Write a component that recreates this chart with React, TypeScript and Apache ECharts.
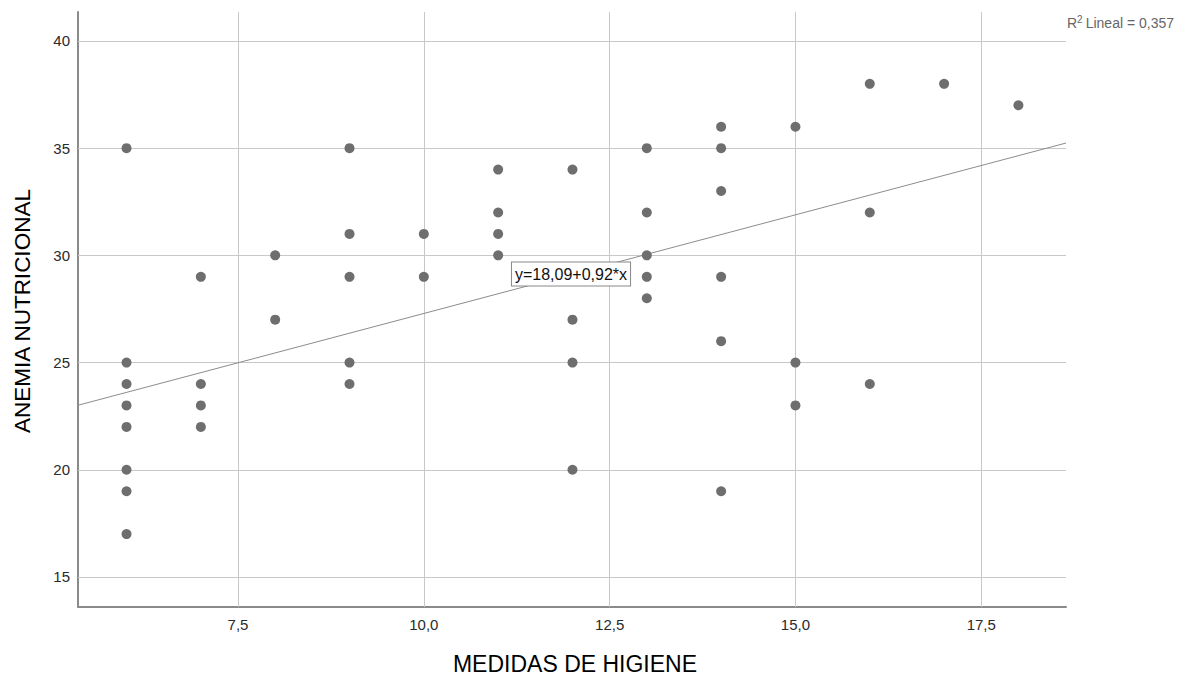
import React, { useEffect, useRef } from "react";
import * as echarts from "echarts";

const higiene = [
  6, 6, 6, 6, 6, 6, 6, 6,
  7, 7, 7, 7,
  8, 8,
  9, 9, 9, 9, 9,
  10, 10,
  11, 11, 11, 11,
  12, 12, 12, 12,
  13, 13, 13, 13, 13,
  14, 14, 14, 14, 14, 14,
  15, 15, 15,
  16, 16, 16,
  17,
  18,
];
const anemia = [
  35, 25, 24, 23, 22, 20, 19, 17,
  29, 24, 23, 22,
  30, 27,
  35, 31, 29, 25, 24,
  31, 29,
  34, 32, 31, 30,
  34, 27, 25, 20,
  35, 32, 30, 29, 28,
  36, 35, 33, 29, 26, 19,
  36, 25, 23,
  38, 32, 24,
  38,
  37,
];
const xTicks = [7.5, 10, 12.5, 15, 17.5];
const yTicks = [15, 20, 25, 30, 35, 40];
const intercept = 18.09;
const slope = 0.92;
const xMin = 5.347;
const xMax = 18.64;
const yMin = 13.6;
const yMax = 41.35;
const eqLabel = "y=18,09+0,92*x";
const r2Label = "0,357";
const xTitle = "MEDIDAS DE HIGIENE";
const yTitle = "ANEMIA NUTRICIONAL";

export default function App() {
  const ref = useRef<HTMLDivElement>(null);
  useEffect(() => {
    if (!ref.current) return;
    const chart = echarts.init(ref.current, null, { renderer: "svg" });
    const font = "'Liberation Sans', Arial, sans-serif";
    const points = higiene.map((x, i) => [x, anemia[i]]);
    const gridLines = [
      ...xTicks.map((v) => ({ xAxis: v })),
      ...yTicks.map((v) => ({ yAxis: v })),
    ];
    chart.setOption({
      animation: false,
      grid: { left: 78, right: 122, top: 12, bottom: 69, containLabel: false },
      xAxis: {
        type: "value",
        min: xMin,
        max: xMax,
        splitLine: { show: false },
        axisTick: { show: false },
        axisLine: { show: true, lineStyle: { color: "#8a8a8a", width: 2 } },
        axisLabel: {
          customValues: xTicks,
          formatter: (v: number) => v.toFixed(1).replace(".", ","),
          color: "#2a2a2a",
          fontSize: 15,
          fontFamily: font,
          margin: 10,
        },
      },
      yAxis: {
        type: "value",
        min: yMin,
        max: yMax,
        splitLine: { show: false },
        axisTick: { show: false },
        axisLine: { show: true, lineStyle: { color: "#8a8a8a", width: 2 } },
        axisLabel: {
          customValues: yTicks,
          formatter: (v: number) => String(v),
          color: "#2a2a2a",
          fontSize: 15,
          fontFamily: font,
          margin: 8,
        },
      },
      series: [
        {
          type: "scatter",
          data: points,
          symbol: "circle",
          symbolSize: 10,
          itemStyle: { color: "#6e6e6e", opacity: 1 },
          z: 5,
          markLine: {
            silent: true,
            symbol: "none",
            label: { show: false },
            lineStyle: { color: "#c8c8c8", width: 1, type: "solid" },
            data: gridLines,
            z: 1,
          },
        },
        {
          type: "line",
          data: [
            [xMin, intercept + slope * xMin],
            [xMax, intercept + slope * xMax],
          ],
          symbol: "none",
          lineStyle: { color: "#8c8c8c", width: 1 },
          z: 4,
        },
      ],
      graphic: [
        {
          type: "text",
          x: 575,
          y: 664,
          style: {
            text: xTitle,
            font: `23px ${font}`,
            fill: "#000",
            align: "center",
            verticalAlign: "middle",
          },
        },
        {
          type: "text",
          x: 22,
          y: 311,
          rotation: Math.PI / 2,
          style: {
            text: yTitle,
            font: `22.5px ${font}`,
            fill: "#000",
            align: "center",
            verticalAlign: "middle",
          },
        },
        {
          type: "text",
          x: 571,
          y: 274,
          z: 10,
          style: {
            text: eqLabel,
            font: `16px ${font}`,
            fill: "#111",
            align: "center",
            verticalAlign: "middle",
            backgroundColor: "#fff",
            borderColor: "#888",
            borderWidth: 1,
            padding: [4, 3, 3, 3],
          },
        },
        {
          type: "text",
          x: 1067,
          y: 23,
          style: {
            rich: {
              n: { fontSize: 14, fontFamily: font, fill: "#666" },
              s: { fontSize: 10, fontFamily: font, fill: "#666", verticalAlign: "top", padding: [0, 3, 7, 0] },
            },
            text: `{n|R}{s|2}{n|Lineal = ${r2Label}}`,
            verticalAlign: "middle",
          },
        },
      ],
    });
    return () => chart.dispose();
  }, []);
  return (
    <div
      ref={ref}
      style={{ position: "absolute", left: 0, top: 0, width: 1188, height: 676, background: "#fff" }}
    />
  );
}
